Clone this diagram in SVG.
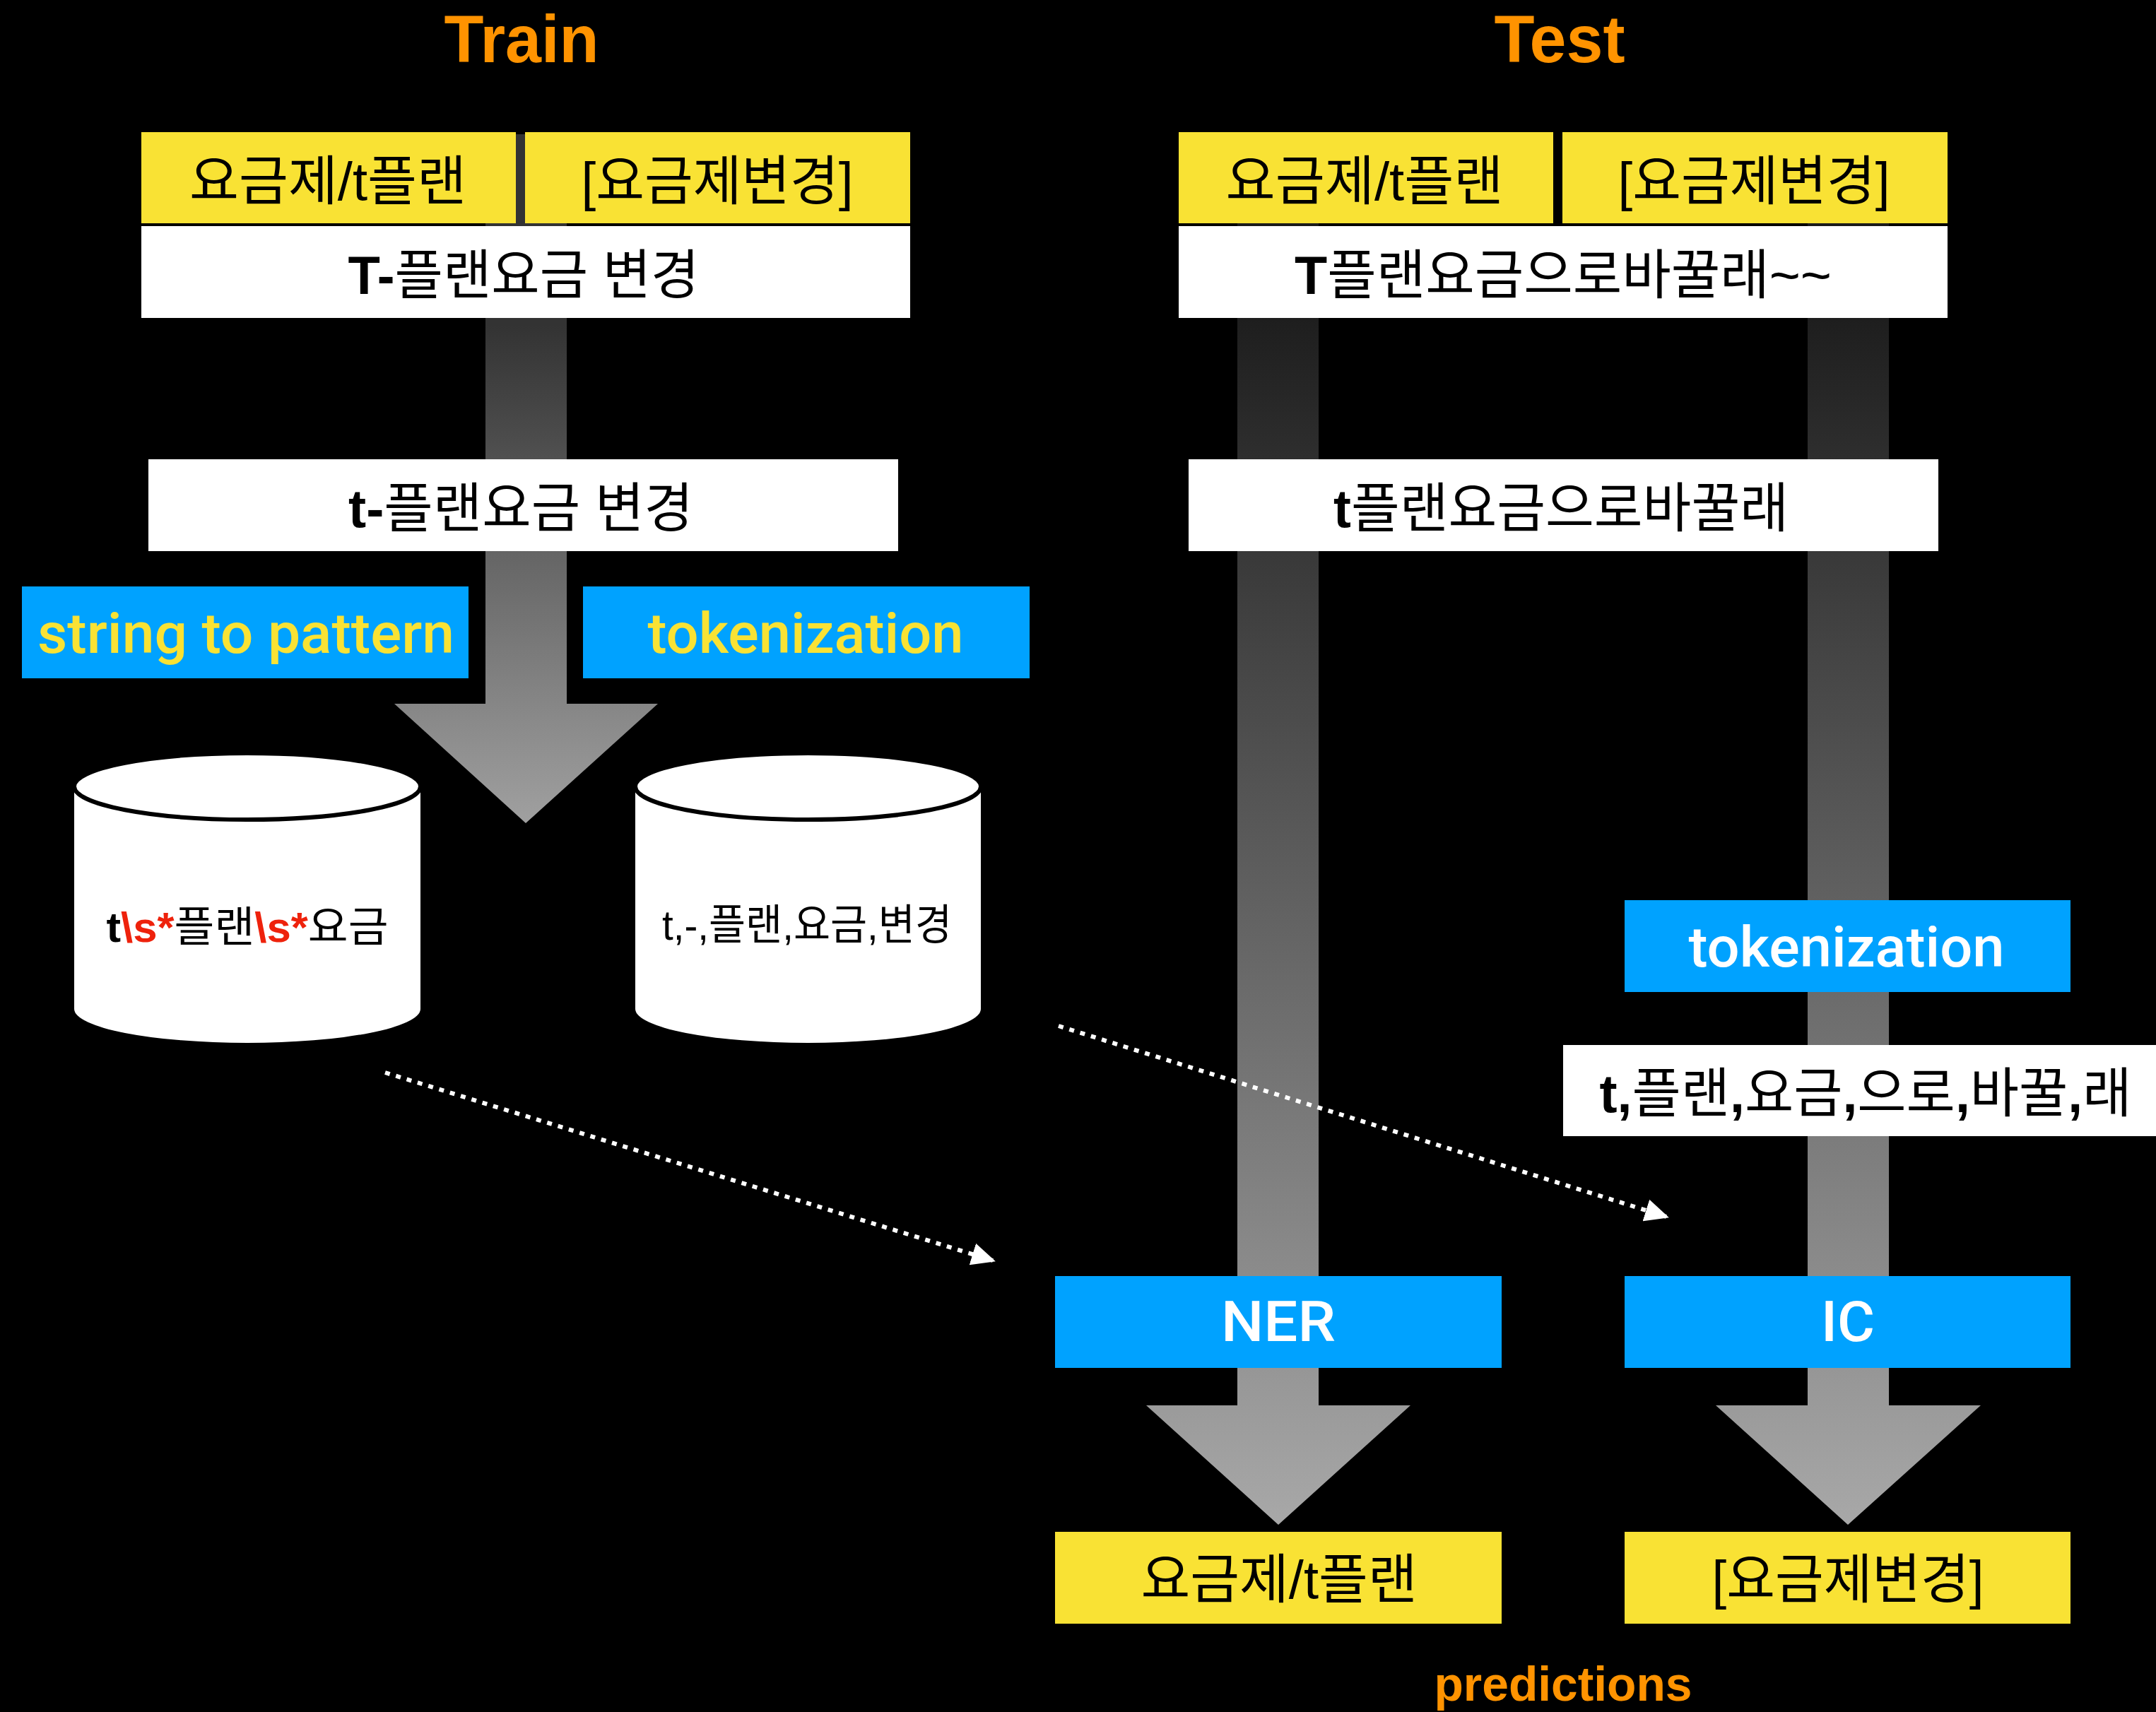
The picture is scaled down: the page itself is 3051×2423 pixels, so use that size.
<svg xmlns="http://www.w3.org/2000/svg" width="3051" height="2423" viewBox="0 0 3051 2423">
<style>
.t{font-family:"Liberation Sans","Noto Sans CJK KR",sans-serif;text-anchor:middle;}
.kr{font-size:76px;fill:#000;}
.b{font-weight:bold;}
.title{font-size:94px;font-weight:bold;fill:#ff9300;}
.lbl{font-family:Roboto,"Liberation Sans",sans-serif;font-size:80px;font-weight:500;}
.yel{fill:#f9e234;}
.blue{fill:#00a2ff;}
.wht{fill:#fff;}
.cyl{fill:#fff;}
.rim{fill:#fff;stroke:#000;stroke-width:6;}
.dot{fill:none;stroke:#fff;stroke-width:6;stroke-dasharray:7 9;marker-end:url(#ah);}
.red{fill:#ee220c;}
</style>
<defs>
<linearGradient id="gTrain" gradientUnits="userSpaceOnUse" x1="0" y1="460" x2="0" y2="1165">
<stop offset="0" stop-color="#333"/><stop offset="1" stop-color="#a0a0a0"/>
</linearGradient>
<linearGradient id="gTest" gradientUnits="userSpaceOnUse" x1="0" y1="400" x2="0" y2="2158">
<stop offset="0" stop-color="#1a1a1a"/><stop offset="1" stop-color="#a8a8a8"/>
</linearGradient>
<marker id="ah" viewBox="0 0 34 32" markerWidth="34" markerHeight="32" refX="30" refY="16" orient="auto" markerUnits="userSpaceOnUse">
<path d="M0,0 L34,16 L0,32 Z" fill="#fff"/>
</marker>
</defs>
<rect width="3051" height="2423" fill="#000"/>

<g id="flow-arrows">
<path d="M687,190 H802 V996 H931 L744,1165 L558,996 H687 Z" fill="url(#gTrain)"/>
<path d="M1751,190 H1866 V1989 H1996 L1809,2158 L1622,1989 H1751 Z" fill="url(#gTest)"/>
<path d="M2558,190 H2673 V1989 H2803 L2615,2158 L2428,1989 H2558 Z" fill="url(#gTest)"/>
</g>

<g id="title-train"><text class="t title" x="738" y="88" textLength="219" lengthAdjust="spacingAndGlyphs">Train</text></g>
<g id="title-test"><text class="t title" x="2207" y="88" textLength="185" lengthAdjust="spacingAndGlyphs">Test</text></g>

<g id="train-entity">
<rect class="yel" x="200" y="187" width="530" height="129"/>
<text class="t kr" x="464" y="283" textLength="392" lengthAdjust="spacingAndGlyphs">요금제/t플랜</text>
</g>
<g id="train-intent">
<rect class="yel" x="743" y="187" width="545" height="129"/>
<text class="t kr" x="1015" y="283" textLength="385" lengthAdjust="spacingAndGlyphs">[요금제변경]</text>
</g>
<g id="train-utterance">
<rect class="wht" x="200" y="320" width="1088" height="130"/>
<text class="t kr" x="741" y="416" textLength="497" lengthAdjust="spacingAndGlyphs"><tspan class="b">T-</tspan>플랜요금 변경</text>
</g>
<g id="train-normalized">
<rect class="wht" x="210" y="650" width="1061" height="130"/>
<text class="t kr" x="737" y="746" textLength="488" lengthAdjust="spacingAndGlyphs"><tspan class="b">t-</tspan>플랜요금 변경</text>
</g>
<g id="train-pattern-step">
<rect class="blue" x="31" y="830" width="632" height="130"/>
<text class="t lbl yel" x="348" y="924" textLength="590" lengthAdjust="spacingAndGlyphs">string to pattern</text>
</g>
<g id="train-token-step">
<rect class="blue" x="825" y="830" width="632" height="130"/>
<text class="t lbl yel" x="1140" y="924" textLength="447" lengthAdjust="spacingAndGlyphs">tokenization</text>
</g>
<g id="db-pattern">
<path class="cyl" d="M105,1113 V1428 A245,48 0 0 0 595,1428 V1113 Z"/>
<ellipse class="rim" cx="350" cy="1113" rx="245" ry="47"/>
<text class="t" x="350" y="1333" font-size="60" textLength="399" lengthAdjust="spacingAndGlyphs"><tspan class="b">t</tspan><tspan class="red b">\s*</tspan>플랜<tspan class="red b">\s*</tspan>요금</text>
</g>
<g id="db-tokens">
<path class="cyl" d="M899,1113 V1428 A244.5,48 0 0 0 1388,1428 V1113 Z"/>
<ellipse class="rim" cx="1143.5" cy="1113" rx="244.5" ry="47"/>
<text class="t" x="1142" y="1330" font-size="60" textLength="410" lengthAdjust="spacingAndGlyphs">t,-,플랜,요금,변경</text>
</g>

<g id="test-entity">
<rect class="yel" x="1668" y="187" width="530" height="129"/>
<text class="t kr" x="1931" y="283" textLength="393" lengthAdjust="spacingAndGlyphs">요금제/t플랜</text>
</g>
<g id="test-intent">
<rect class="yel" x="2211" y="187" width="545" height="129"/>
<text class="t kr" x="2482" y="283" textLength="385" lengthAdjust="spacingAndGlyphs">[요금제변경]</text>
</g>
<g id="test-utterance">
<rect class="wht" x="1668" y="320" width="1088" height="130"/>
<text class="t kr" x="2212" y="416" textLength="760" lengthAdjust="spacingAndGlyphs"><tspan class="b">T</tspan>플랜요금으로바꿀래~~</text>
</g>
<g id="test-normalized">
<rect class="wht" x="1682" y="650" width="1061" height="130"/>
<text class="t kr" x="2209" y="746" textLength="644" lengthAdjust="spacingAndGlyphs"><tspan class="b">t</tspan>플랜요금으로바꿀래</text>
</g>
<g id="test-token-step">
<rect class="blue" x="2299" y="1274" width="631" height="130"/>
<text class="t lbl wht" x="2613" y="1368" textLength="447" lengthAdjust="spacingAndGlyphs">tokenization</text>
</g>
<g id="test-tokens">
<rect class="wht" x="2212" y="1479" width="839" height="129"/>
<text class="t kr" x="2640" y="1574" textLength="753" lengthAdjust="spacingAndGlyphs"><tspan class="b">t,</tspan>플랜<tspan class="b">,</tspan>요금<tspan class="b">,</tspan>으로<tspan class="b">,</tspan>바꿀<tspan class="b">,</tspan>래</text>
</g>
<g id="ner">
<rect class="blue" x="1493" y="1806" width="632" height="130"/>
<text class="t lbl wht" x="1809" y="1898" textLength="162" lengthAdjust="spacingAndGlyphs">NER</text>
</g>
<g id="ic">
<rect class="blue" x="2299" y="1806" width="631" height="130"/>
<text class="t lbl wht" x="2615" y="1898" textLength="76" lengthAdjust="spacingAndGlyphs">IC</text>
</g>
<g id="pred-entity">
<rect class="yel" x="1493" y="2168" width="632" height="130"/>
<text class="t kr" x="1810" y="2262" textLength="391" lengthAdjust="spacingAndGlyphs">요금제/t플랜</text>
</g>
<g id="pred-intent">
<rect class="yel" x="2299" y="2168" width="631" height="130"/>
<text class="t kr" x="2615" y="2262" textLength="385" lengthAdjust="spacingAndGlyphs">[요금제변경]</text>
</g>
<g id="predictions-label"><text class="t" x="2212" y="2407" font-size="68" font-weight="bold" fill="#ff9300" textLength="365" lengthAdjust="spacingAndGlyphs">predictions</text></g>

<g id="connectors">
<line class="dot" x1="545" y1="1518" x2="1405" y2="1784"/>
<line class="dot" x1="1498" y1="1452" x2="2358" y2="1722"/>
</g>
</svg>
